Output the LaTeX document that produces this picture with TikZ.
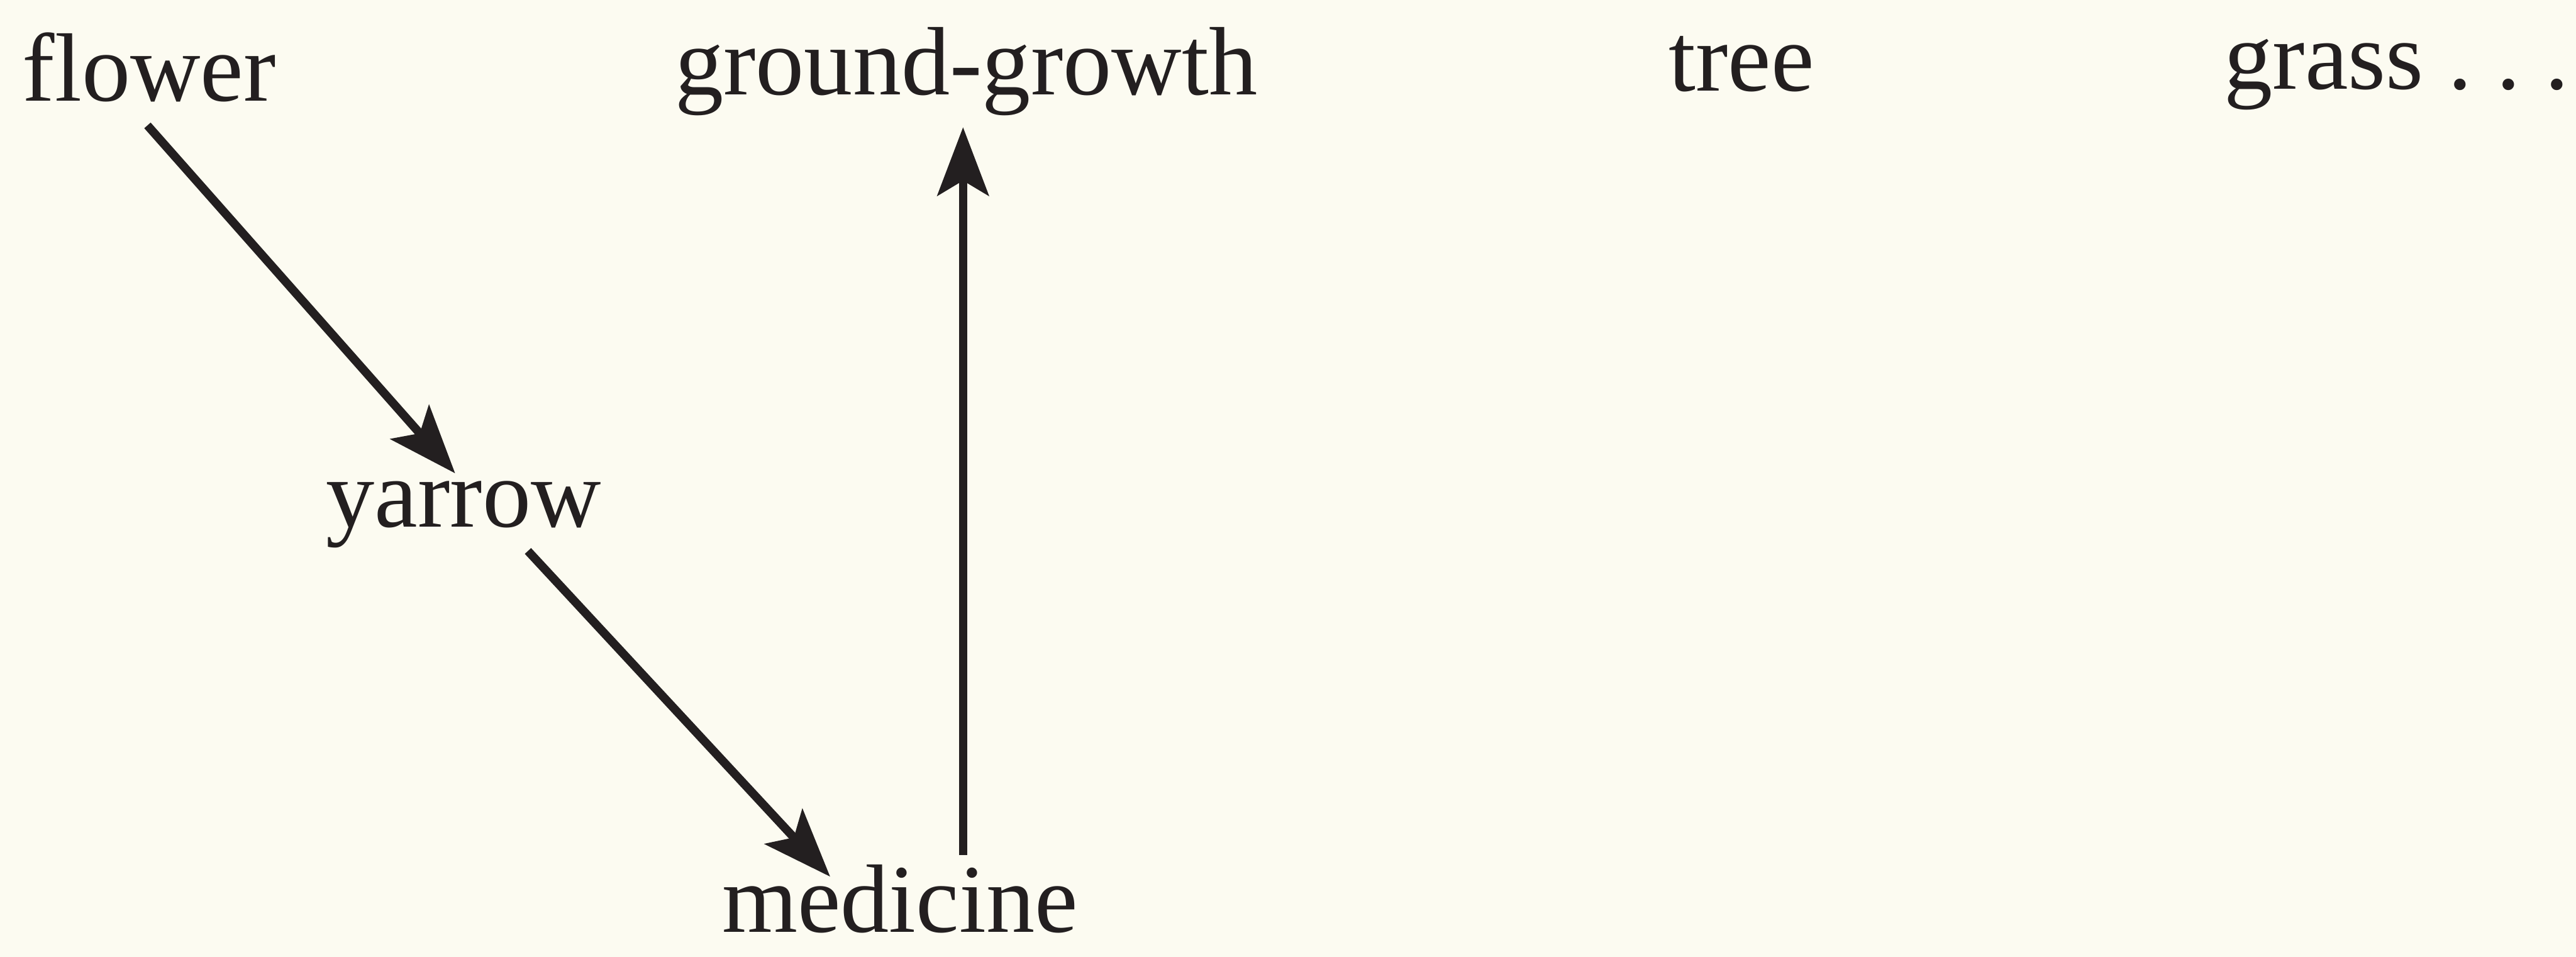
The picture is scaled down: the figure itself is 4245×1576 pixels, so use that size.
\documentclass[tikz,border=0pt]{standalone}
\usepackage{fontspec}
\setmainfont{Liberation Serif}
\usetikzlibrary{arrows.meta}
\definecolor{paper}{RGB}{252,251,241}
\definecolor{ink}{RGB}{35,31,32}
\tikzset{
  word/.style={inner sep=0pt, outer sep=0pt, text=ink, font=\fontsize{45.5}{50}\selectfont, anchor=base},
  link/.style={draw=ink, line width=4pt, -{Stealth[length=32pt, width=24pt, inset=7pt]}}
}
\begin{document}
\begin{tikzpicture}[x=0.01cm, y=-0.01cm]
\fill[paper] (0,0) rectangle (4245,1576);
\useasboundingbox (0,0) rectangle (4245,1576);
\node[word] (flower) at (246,166) {flower};
\node[word] (gg) at (1592,156) {ground-growth};
\node[word] (tree) at (2870,150) {tree};
\node[word, anchor=base west] (grass) at (3665,147) {grass~.~.~.};
\node[word] (yarrow) at (764,868) {yarrow};
\node[word] (medicine) at (1483,1535) {medicine};
\draw[link] ([shift={(-3,39)}]flower.south) -- ([shift={(-14,-13)}]yarrow.north);
\draw[link] ([shift={(106,5)}]yarrow.south) -- ([shift={(-115,20)}]medicine.north);
\draw[link] ([shift={(104,-16)}]medicine.north) -- ([shift={(-5,19)}]gg.south);
\end{tikzpicture}
\end{document}
